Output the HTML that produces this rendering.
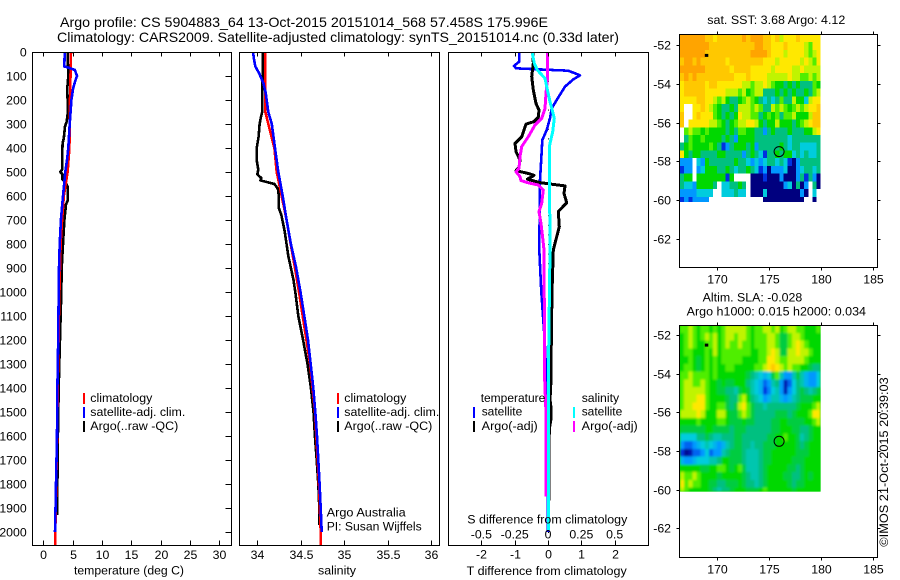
<!DOCTYPE html>
<html>
<head>
<meta charset="utf-8">
<title>Argo profile</title>
<style>
html,body{margin:0;padding:0;background:#fff;}
svg{display:block;}
text{font-family:"Liberation Sans",sans-serif;font-size:12.3px;fill:#000;}
.frame{fill:none;stroke:#000;stroke-width:1;shape-rendering:crispEdges;}
.title{font-size:14px;}
</style>
</head>
<body>
<svg id="chart" width="900" height="580" viewBox="0 0 900 580" xmlns="http://www.w3.org/2000/svg">
  <defs>
    <filter id="slaBlur" x="-5%" y="-5%" width="110%" height="110%"><feGaussianBlur stdDeviation="1"/></filter>
    <clipPath id="slaClip"><rect x="680" y="326" width="140.7" height="165.7"/></clipPath>
  </defs>
  <text class="title" x="60" y="27" textLength="488" lengthAdjust="spacingAndGlyphs">Argo profile: CS 5904883_64 13-Oct-2015 20151014_568 57.458S 175.996E</text>
  <text class="title" x="57" y="42" textLength="562" lengthAdjust="spacingAndGlyphs">Climatology: CARS2009. Satellite-adjusted climatology: synTS_20151014.nc (0.33d later)</text>

  <g id="marksTemp"></g>
  <g id="marksSal"></g>
  <g id="marksDiff"></g>
  <g id="mapSst"></g>
  <g clip-path="url(#slaClip)">
    <rect x="680" y="326" width="140.7" height="165.7" fill="#00d400"/>
    <g id="mapSla" filter="url(#slaBlur)"></g>
  </g>
  <g id="mapSlaMarks"></g>
  <g id="axes"></g>

  <rect class="frame" x="32.5" y="52.5" width="199" height="493"/>
  <rect class="frame" x="239.5" y="52.5" width="200" height="493"/>
  <rect class="frame" x="448.5" y="52.5" width="200" height="493"/>
  <rect class="frame" x="679.5" y="34.5" width="198" height="233"/>
  <rect class="frame" x="679.5" y="325.5" width="198" height="232"/>

  <text x="74" y="574.5" textLength="110" lengthAdjust="spacingAndGlyphs">temperature (deg C)</text>
  <text x="318" y="574.5" textLength="38" lengthAdjust="spacingAndGlyphs">salinity</text>
  <text x="466.7" y="575" textLength="160" lengthAdjust="spacingAndGlyphs">T difference from climatology</text>
  <text x="467.3" y="523.5" textLength="160" lengthAdjust="spacingAndGlyphs">S difference from climatology</text>

  <g>
    <rect x="83" y="393" width="2" height="11" fill="#ff0000"/>
    <rect x="83" y="407" width="2" height="11" fill="#0000ff"/>
    <rect x="83" y="421" width="2" height="11" fill="#000"/>
    <text x="90.3" y="402" textLength="62" lengthAdjust="spacingAndGlyphs">climatology</text>
    <text x="90.3" y="416" textLength="95" lengthAdjust="spacingAndGlyphs">satellite-adj. clim.</text>
    <text x="90.3" y="430" textLength="88" lengthAdjust="spacingAndGlyphs">Argo(..raw -QC)</text>
  </g>
  <g>
    <rect x="337" y="393" width="2" height="11" fill="#ff0000"/>
    <rect x="337" y="407" width="2" height="11" fill="#0000ff"/>
    <rect x="337" y="421" width="2" height="11" fill="#000"/>
    <text x="344.3" y="402" textLength="62" lengthAdjust="spacingAndGlyphs">climatology</text>
    <text x="344.3" y="416" textLength="95" lengthAdjust="spacingAndGlyphs">satellite-adj. clim.</text>
    <text x="344.3" y="430" textLength="88" lengthAdjust="spacingAndGlyphs">Argo(..raw -QC)</text>
    <text x="326.7" y="516.7" textLength="79" lengthAdjust="spacingAndGlyphs">Argo Australia</text>
    <text x="326.7" y="530.7" textLength="95" lengthAdjust="spacingAndGlyphs">PI: Susan Wijffels</text>
  </g>
  <g>
    <text x="480.7" y="402" textLength="64.6" lengthAdjust="spacingAndGlyphs">temperature</text>
    <rect x="473" y="407" width="2" height="11" fill="#0000ff"/>
    <rect x="473" y="421" width="2" height="11" fill="#000"/>
    <text x="481.7" y="415.7" textLength="40.6" lengthAdjust="spacingAndGlyphs">satellite</text>
    <text x="481.7" y="430" textLength="56" lengthAdjust="spacingAndGlyphs">Argo(-adj)</text>
    <text x="581.7" y="402" textLength="37.4" lengthAdjust="spacingAndGlyphs">salinity</text>
    <rect x="573" y="407" width="2" height="11" fill="#00ffff"/>
    <rect x="573" y="421" width="2" height="11" fill="#ff00ff"/>
    <text x="581.7" y="415.7" textLength="40.6" lengthAdjust="spacingAndGlyphs">satellite</text>
    <text x="581.7" y="430" textLength="56" lengthAdjust="spacingAndGlyphs">Argo(-adj)</text>
  </g>

  <text x="707.3" y="24" textLength="138" lengthAdjust="spacingAndGlyphs">sat. SST: 3.68 Argo: 4.12</text>
  <text x="702.7" y="301.3" textLength="99.6" lengthAdjust="spacingAndGlyphs">Altim. SLA: -0.028</text>
  <text x="686.7" y="315.7" textLength="179.3" lengthAdjust="spacingAndGlyphs">Argo h1000: 0.015 h2000: 0.034</text>
  <text transform="translate(888 546.7) rotate(-90)" x="0" y="0" textLength="169.4" lengthAdjust="spacingAndGlyphs">©IMOS 21-Oct-2015 20:39:03</text>
</svg>

<script>
/* ---- tick labels ---- */
const depthTicks = [0,100,200,300,400,500,600,700,800,900,1000,1100,1200,1300,1400,1500,1600,1700,1800,1900,2000];
const tempTicks = [0,5,10,15,20,25,30];
const salTicks = [34,34.5,35,35.5,36];
const diffTTicks = [-2,-1,0,1,2];
const diffSTicks = [-0.5,-0.25,0,0.25,0.5];
const lonTicks = [170,175,180,185];
const latTicks = [-52,-54,-56,-58,-60,-62];

/* ---- temperature panel ---- */
const climTempDepth = [0,200,400,500,600,700,800,900,1000,1200,1400,1600,1800,2000,2055];
const climTemp = [4.73,4.55,4.45,4.15,3.5,3.2,2.95,2.85,2.75,2.6,2.45,2.35,2.2,2.05,2.05];
const satTempDepth = [0,50,60,65,75,100,120,150,200,300,400,450,500,600,700,800,900,1000,1200,1400,1600,1800,1950,2000];
const satTemp = [3.65,3.6,3.55,4.27,5.4,5.75,5.46,5.1,4.8,4.5,4.27,4.04,3.76,3.36,3.0,2.8,2.68,2.62,2.55,2.4,2.34,2.17,2.05,2.0];
const argoTempDepth = [0,100,150,250,290,310,360,380,440,490,500,510,530,545,560,620,635,700,800,900,1000,1150,1300,1400,1600,1800,1930];
const argoTemp = [4.15,4.27,4.1,4.2,4.0,3.7,3.5,3.3,3.2,3.2,2.9,3.3,3.2,3.8,4.15,4.15,3.87,3.6,3.36,3.14,3.07,2.9,2.73,2.62,2.5,2.4,2.34];

/* ---- salinity panel ---- */
const climSalDepth = [0,100,200,250,300,400,500,600,700,800,900,1000,1100,1300,1500,1800,2000,2055];
const climSal = [34.095,34.095,34.096,34.096,34.13,34.2,34.226,34.284,34.34,34.387,34.437,34.483,34.525,34.61,34.667,34.713,34.732,34.732];
const satSalDepth = [0,30,60,90,130,170,250,300,400,500,600,700,800,900,1000,1100,1200,1300,1400,1500,1600,1700,1800,1900,2000];
const satSal = [33.954,33.965,33.98,34.027,34.073,34.1,34.13,34.17,34.207,34.245,34.295,34.34,34.39,34.45,34.5,34.544,34.586,34.617,34.647,34.67,34.69,34.705,34.72,34.732,34.744];
const argoSalDepth = [0,90,140,250,270,300,350,400,450,490,510,525,535,550,570,600,650,680,750,850,950,1000,1100,1200,1300,1400,1500,1600,1700,1800,1900,1970];
const argoSal = [34.069,34.069,34.06,34.06,34.046,34.03,34.02,33.996,33.996,34.015,34.003,34.05,34.04,34.2,34.24,34.25,34.25,34.28,34.32,34.36,34.42,34.44,34.475,34.53,34.58,34.62,34.65,34.665,34.686,34.705,34.716,34.716];

/* ---- difference panel ---- */
const satDiffTDepth = [5,40,58,68,72,78,97,114,144,200,235,276,325,367,464,533,825,1000,1200,1400,1700,2000];
const satDiffT = [-0.86,-0.86,-1.02,-0.96,-0.34,0.61,0.96,0.76,0.51,0.26,0.11,0.06,-0.04,-0.17,-0.21,-0.24,-0.26,-0.2,-0.1,-0.04,-0.02,0];
const argoDiffTDepth = [5,47,103,158,214,242,272,290,301,353,381,415,450,480,494,508,514,530,544,550,558,589,628,665,728,797,825,1000,1200,1367,1450,1480,1530,1570,1900,1930];
const argoDiffT = [-0.45,-0.44,-0.49,-0.44,-0.36,-0.27,-0.29,-0.42,-0.66,-0.79,-0.99,-0.96,-0.84,-0.87,-0.96,-0.54,-0.42,-0.62,-0.24,0.06,0.51,0.48,0.56,0.31,0.34,0.21,0.16,0.12,0.1,0.09,0.06,0.09,0.09,0.04,0.02,0.02];
const argoDiffSDepth = [5,117,172,235,276,304,353,394,436,485,499,519,536,544,554,575,630,665,714,797,825,1367,1506,1853];
const argoDiffS = [-0.005,-0.005,-0.015,-0.0225,-0.0475,-0.0975,-0.1475,-0.1975,-0.21,-0.2175,-0.24,-0.21,-0.2025,-0.155,-0.0725,-0.035,-0.0475,-0.0675,-0.0525,-0.035,-0.03,-0.025,-0.015,-0.015];
const satDiffSDepth = [5,47,75,110,144,207,276,332,394,825,1367,1992];
const satDiffS = [-0.1175,-0.1025,-0.08,-0.0225,-0.01,0.015,0.0475,0.035,0.01,0.015,0.0025,0.0025];

/* ---- map grids: colour level per cell, 0 = no data, 1 navy ... 11 orange ---- */
const sstRows = [
[11,11,11,11,11,11,10,10,9,10,10,10,10,10,10,11,10,11,11,11,10,10,9,10,8,9,9,9,10,9,9,9,9,9],
[11,11,11,11,11,11,11,10,10,10,10,10,10,10,10,10,10,10,11,11,10,10,9,9,9,10,9,9,9,9,8,7,9,9],
[11,11,11,11,11,11,10,10,10,10,10,10,10,10,10,10,10,11,11,11,11,10,9,9,9,8,9,9,9,9,8,7,8,9],
[10,11,11,10,11,10,10,10,10,10,10,9,10,10,10,10,10,10,10,10,9,9,9,8,9,9,9,9,9,8,9,8,7,9],
[11,11,11,11,11,11,10,10,10,10,10,10,9,10,10,10,10,9,9,9,9,9,8,9,9,9,9,8,8,9,8,8,8,8],
[10,11,10,11,10,10,10,10,10,10,10,10,10,9,9,9,10,9,9,9,9,8,8,8,8,8,9,8,8,7,7,8,7,8],
[9,10,10,10,10,10,9,10,10,9,9,9,9,9,9,8,8,7,8,8,9,8,7,6,6,5,6,5,6,5,5,5,7,6],
[9,10,10,10,10,10,9,9,9,9,9,8,8,8,7,8,6,7,8,8,5,5,5,6,5,6,5,6,5,5,6,5,7,8],
[9,9,9,9,10,10,9,9,8,7,8,6,5,5,6,7,8,7,6,5,4,5,4,5,7,5,5,8,6,6,4,8,9,9],
[9,0,0,9,9,10,9,8,7,6,5,5,6,5,8,8,8,7,8,7,5,5,8,7,8,7,6,7,8,7,8,9,9,10],
[10,0,0,9,10,9,9,9,7,6,5,6,5,6,9,8,8,7,7,5,6,7,6,7,5,7,7,8,6,6,6,8,10,10],
[10,0,9,9,9,9,9,8,8,7,6,5,6,7,8,8,9,9,8,6,5,6,6,8,6,6,6,5,6,7,8,9,10,10],
[0,7,8,7,7,6,7,6,6,6,6,5,6,5,7,7,6,6,5,5,3,5,6,5,5,5,6,5,5,5,6,6,8,9],
[0,5,7,6,6,7,6,6,6,6,5,6,5,3,6,6,6,6,5,5,5,5,5,5,5,5,4,5,5,5,5,5,5,5],
[5,6,7,6,6,6,6,7,6,5,2,3,5,6,6,6,5,6,3,5,5,5,5,5,6,5,4,5,5,4,4,4,4,5],
[9,6,5,6,6,5,5,5,5,6,6,5,5,5,5,3,5,6,5,4,2,5,5,6,5,6,6,4,5,4,5,4,4,5],
[3,3,3,0,4,3,6,5,5,5,5,5,5,6,5,5,4,3,4,3,4,5,5,4,5,4,2,1,3,5,5,5,5,5],
[2,3,3,0,3,4,6,6,6,5,5,6,5,4,5,5,6,5,4,2,3,1,3,3,3,4,1,1,3,4,5,5,4,5],
[5,6,6,0,6,6,6,6,6,6,6,2,6,0,0,0,0,1,1,1,2,1,1,1,3,1,1,1,3,5,2,5,3,1],
[5,4,4,3,6,6,6,6,5,0,4,4,5,5,6,5,0,1,1,1,1,1,1,1,1,3,4,1,5,1,3,0,5,1],
[3,3,3,3,4,4,4,4,0,0,4,4,4,5,4,4,0,1,1,1,4,1,1,1,1,1,1,1,1,3,1,0,4,0],
[2,3,2,3,3,3,3,0,0,0,0,0,0,0,0,0,0,0,0,0,1,1,1,1,1,1,1,1,1,1,0,0,1,0]
];
const slaRows = [
[7,7,8,7,6,7,7,6,7,6,7,8,8,8,8,8,7,6,7,7,8,8,7,8,6,7,8,8,7,7,6,6,6,7],
[6,7,8,7,6,7,8,7,8,6,7,8,8,7,8,8,7,6,7,7,7,8,8,7,5.5,5.5,7,8,8,7,6,6,6,6],
[6,7,8,7,6,6,7,7,8,6,7,8,7,7,8,7,7,6,7,7,7,8,8,7,5.5,5.5,7,8,9,8,7,6,6,6],
[6,7,7,6,6,6,7,6,8,6,7,7,7,7,7,7,7,6,6,7,7,8,9,8,5.5,5.5,8,8,9,8,8,7,6,6],
[6,6,7,6,5.5,6,7,6,7,6,7,7,7,7,7,6,6,6,6,7,7,9,9,8,7,7,8,8,8,8,7,6,6,6],
[6,7,7,6,5.5,6,7,6,7,6,6,7,7,6,6,6,6,6,7,7,8,9,10,9,8,7,8,7,7,6,6,5.5,5,5],
[7,7,8,7,7,7,7,6,7,6,6,6,6,6,6,6,5.5,5,4.5,4,3.5,4,5.5,7,4.5,3,3,4.5,5.5,4.5,3.5,3,3,4],
[7,8,8,7,7,8,7,6,6,5.5,6,5.5,5.5,6,6,6,5,4.5,4,3.5,2.5,3,4.5,5,3,1.5,2.5,4,5,4.5,3.5,3,3,4],
[7,8,8,8,8,8,7,6,6,5.5,5.5,5,5,4.5,5.5,6,5.5,4.5,4,3.5,2,2.8,4,4.5,3,1.5,3,4,5,5.5,5,4.5,5,5.5],
[7,8,8,8,9,9,7,6,6,6,6,5.5,5,5,7,8,6,5,4.5,4,3,3.5,4.5,4.5,3.5,3,3.5,4.5,5,5.5,5.5,5.5,6,6],
[7,8,8,9,9,9,7,6,6,7,7,5.5,5,5.5,8,9,7,5.5,5,5,4.5,5,5,5,5,5,5,5,5.5,6,6,6,7,8],
[8,8,8,8,9,8,6,6,6,8,8,6,5.5,5.5,7,8,7,5.5,5,5,5,5,5,5.5,5.5,5.5,5,5.5,6,6,6,7,9,9],
[6,6,6,6,7,6,6,6,6,7,7,6,5.5,5.5,5.5,6,5.5,5.5,5,5,5,5,5.5,5.5,6,6,5.5,5.5,5.5,5.5,6,6,7,8],
[5.5,5.5,5.5,5.5,5.5,5.5,6,6,5.5,5.5,5.5,5.5,5,5.5,5.5,5.5,5,5,5,5,5,5,5.5,5.5,6,6,6,5.5,5.5,5,5,5.5,6,6],
[4,4,4,4,5,5,5.5,5,4.5,4.5,5,5,5,5.5,5.5,5,5,5,5,5,5,5.5,5.5,6,6,7,6,6,5.5,4.5,5,5.5,6,6],
[3,2.5,2.5,3,3.5,4,4.5,4,3.5,3,3.5,4.5,5,5.5,5.5,5,5,4.5,5,5,5.5,5.5,5.5,6,6,6,6,6,5.5,5,5.5,6,6,6],
[2,1.2,1.5,2.5,2.5,3,4,2.5,3,3,4.5,5,5.5,5.5,5.5,5,4.5,4.5,4.5,5,5.5,5.5,6,6,6,6,6,6,5.5,5.5,5.5,6,6,6],
[3.5,3,3,3.5,4,4,4,4.5,4.5,5,6,6,5.5,5.5,5.5,5,4.5,4.5,4.5,5,5.5,5.5,6,6,6,6,6,5.5,5.5,5.5,6,6,6,6],
[6,6,6,6,6,5.5,5.5,6,6,7,7,6,5.5,6,7,5.5,4.5,4.5,4.5,5,5.5,6,6,6,6,6,5.5,5.5,5,5.5,6,6,6,6],
[8,7,7,8,7,6,6,6,6,5.5,6,6,6,6,6,5.5,5,4.5,4.5,5,5.5,6,6,6,6,5.5,5.5,5,5,5.5,6,5.5,6,6],
[9,7,8,7,7,6,6,5.5,5.5,5,5,5.5,5.5,5.5,6,5.5,5,5,4.5,5,5.5,6,6,6,6,6,5.5,5,5.5,5.5,6,6,6,6],
[8,7,6,6,6,6,6,5.5,5,4.5,5,5,5.5,6,6,6,5.5,5.5,5.5,6,7,6,6,6,6,6,6,5.5,6,6,6,6,6,6]
];
const profileLon = [176];
const profileLat = [-57.5];
const floatLon = [169.05];
const floatLat = [-52.55];

/* ---- axis functions ---- */
const SVGNS = 'http://www.w3.org/2000/svg';
function yDepth(d){ return 52 + d * 0.24; }
function xTemp(t){ return 43.3 + t * 5.86; }
function xSal(s){ return 257 + (s - 34) * 87; }
function xDiffT(t){ return 548 + t * 33.33; }
function xDiffS(s){ return 548 + s * 133.3; }
function xLon(l){ return 716.7 + (l - 170) * 10.4; }
function ySst(l){ return 45.3 + (-52 - l) * 19.33; }
function ySla(l){ return 335 + (-52 - l) * 19.33; }

const LON_START = 166.47, LON_STEP = 0.398;
const SST_TOP = -51.44, SLA_TOP = -51.49, LAT_STEP = 0.4, LAT_BOTTOM = -60.1;

const levelColors = [[0,0,127],[0,48,224],[0,152,255],[0,204,221],[0,192,128],[0,216,0],[80,238,0],[192,244,0],[255,232,0],[255,200,0],[255,164,0]];
function levelColor(v){
  const p = Math.max(0, Math.min(levelColors.length - 1, v - 1));
  const i = Math.floor(p);
  const j = Math.min(levelColors.length - 1, i + 1);
  const f = p - i;
  const c = levelColors[i].map(function(a, k){ return Math.round(a + (levelColors[j][k] - a) * f); });
  return 'rgb(' + c.join(',') + ')';
}

function el(tag, parent){
  const e = document.createElementNS(SVGNS, tag);
  parent.appendChild(e);
  return e;
}

function drawSeries(parent, name, depths, values, xf, color, width){
  const p = el('polyline', parent);
  
  
  p.setAttribute('points', depths.map(function(d, i){ return xf(values[i]).toFixed(1) + ',' + yDepth(d).toFixed(1); }).join(' '));
  p.setAttribute('fill', 'none');
  p.setAttribute('stroke', color);
  p.setAttribute('stroke-width', width);
  p.setAttribute('stroke-linejoin', 'round');
  p.setAttribute('shape-rendering', 'crispEdges');
}

function drawTick(parent, x1, y1, x2, y2){
  const t = el('line', parent);
  
  
  t.setAttribute('x1', x1);
  t.setAttribute('y1', y1);
  t.setAttribute('x2', x2);
  t.setAttribute('y2', y2);
  t.setAttribute('stroke', '#000');
  t.setAttribute('shape-rendering', 'crispEdges');
}

function drawLabel(parent, str, x, y, anchor){
  const t = el('text', parent);
  
  
  t.setAttribute('x', x);
  t.setAttribute('y', y);
  t.setAttribute('text-anchor', anchor);
  t.textContent = str;
}

function drawGrid(parent, rows, topLat, yf){
  rows.forEach(function(row, r){
    row.forEach(function(v, c){
      if (v <= 0) return;
      const latA = topLat - r * LAT_STEP;
      const latB = Math.max(LAT_BOTTOM, latA - LAT_STEP);
      const x0 = Math.max(680, xLon(LON_START + c * LON_STEP));
      const x1 = xLon(LON_START + (c + 1) * LON_STEP);
      const cell = el('rect', parent);
      
      
      cell.setAttribute('x', x0.toFixed(2));
      cell.setAttribute('y', yf(latA).toFixed(2));
      cell.setAttribute('width', (x1 - x0).toFixed(2));
      cell.setAttribute('height', (yf(latB) - yf(latA)).toFixed(2));
      cell.setAttribute('fill', levelColor(v));
      cell.setAttribute('shape-rendering', 'crispEdges');
    });
  });
}

function drawMarkers(parent, yf){
  const dot = el('rect', parent);
  
  
  dot.setAttribute('x', (xLon(floatLon[0]) - 2).toFixed(1));
  dot.setAttribute('y', (yf(floatLat[0]) - 2).toFixed(1));
  dot.setAttribute('width', '3.5');
  dot.setAttribute('height', '3');
  dot.setAttribute('fill', '#000');
  const ring = el('circle', parent);
  
  
  ring.setAttribute('cx', xLon(profileLon[0]).toFixed(1));
  ring.setAttribute('cy', yf(profileLat[0]).toFixed(1));
  ring.setAttribute('r', '5');
  ring.setAttribute('fill', 'none');
  ring.setAttribute('stroke', '#000');
  ring.setAttribute('stroke-width', '1');
}

/* ---- marks ---- */
const gTemp = document.getElementById('marksTemp');
drawSeries(gTemp, 'temperature-argo-line', argoTempDepth, argoTemp, xTemp, '#000000', 2.6);
drawSeries(gTemp, 'temperature-climatology-line', climTempDepth, climTemp, xTemp, '#ff0000', 2.6);
drawSeries(gTemp, 'temperature-satellite-line', satTempDepth, satTemp, xTemp, '#0000ff', 2.6);

const gSal = document.getElementById('marksSal');
drawSeries(gSal, 'salinity-argo-line', argoSalDepth, argoSal, xSal, '#000000', 2.6);
drawSeries(gSal, 'salinity-climatology-line', climSalDepth, climSal, xSal, '#ff0000', 2.6);
drawSeries(gSal, 'salinity-satellite-line', satSalDepth, satSal, xSal, '#0000ff', 2.6);

const gDiff = document.getElementById('marksDiff');
for (let d = 0; d < 2050; d += 40) {
  const zeroDot = el('rect', gDiff);
  
  
  zeroDot.setAttribute('x', xDiffT(0).toFixed(1));
  zeroDot.setAttribute('y', yDepth(d).toFixed(1));
  zeroDot.setAttribute('width', '1');
  zeroDot.setAttribute('height', '1');
  zeroDot.setAttribute('fill', '#000');
}
drawSeries(gDiff, 'difference-t-satellite-line', satDiffTDepth, satDiffT, xDiffT, '#0000ff', 2.6);
drawSeries(gDiff, 'difference-t-argo-line', argoDiffTDepth, argoDiffT, xDiffT, '#000000', 3);
drawSeries(gDiff, 'difference-s-argo-line', argoDiffSDepth, argoDiffS, xDiffS, '#ff00ff', 3);
drawSeries(gDiff, 'difference-s-satellite-line', satDiffSDepth, satDiffS, xDiffS, '#00ffff', 3);

const gSst = document.getElementById('mapSst');
drawGrid(gSst, sstRows, SST_TOP, ySst);
drawMarkers(gSst, ySst);

const gSla = document.getElementById('mapSla');
drawGrid(gSla, slaRows, SLA_TOP, ySla);
drawMarkers(document.getElementById('mapSlaMarks'), ySla);

/* ---- axes ---- */
const gAxes = document.getElementById('axes');
depthTicks.forEach(function(d){
  const y = Math.round(yDepth(d)) + 0.5;
  drawTick(gAxes, 225.5, y, 231.5, y);
  drawLabel(gAxes, String(d), 26.7, y + 4, 'end');
});
tempTicks.forEach(function(t){
  const x = Math.round(xTemp(t)) + 0.5;
  drawTick(gAxes, x, 52.5, x, 56.5);
  drawTick(gAxes, x, 545.5, x, 540.5);
  drawLabel(gAxes, String(t), x, 559, 'middle');
});
salTicks.forEach(function(s){
  const x = Math.round(xSal(s)) + 0.5;
  drawTick(gAxes, x, 52.5, x, 56.5);
  drawTick(gAxes, x, 545.5, x, 540.5);
  drawLabel(gAxes, String(s), x, 559, 'middle');
});
diffTTicks.forEach(function(t){
  const x = Math.round(xDiffT(t)) + 0.5;
  drawTick(gAxes, x, 52.5, x, 56.5);
  drawTick(gAxes, x, 545.5, x, 540.5);
  drawLabel(gAxes, String(t), x, 558.7, 'middle');
});
diffSTicks.forEach(function(s){
  drawLabel(gAxes, String(s), xDiffS(s), 538.3, 'middle');
});
lonTicks.forEach(function(l){
  const x = Math.round(xLon(l)) + 0.5;
  drawTick(gAxes, x, 34.5, x, 31.5);
  drawTick(gAxes, x, 267.5, x, 270.5);
  drawTick(gAxes, x, 325.5, x, 322.5);
  drawTick(gAxes, x, 557.5, x, 560.5);
  drawLabel(gAxes, String(l), x, 283.3, 'middle');
  drawLabel(gAxes, String(l), x, 573.3, 'middle');
});
latTicks.forEach(function(l){
  const y1 = Math.round(ySst(l)) + 0.5;
  const y2 = Math.round(ySla(l)) + 0.5;
  drawTick(gAxes, 679.5, y1, 676.5, y1);
  drawTick(gAxes, 877.5, y1, 880.5, y1);
  drawTick(gAxes, 679.5, y2, 676.5, y2);
  drawTick(gAxes, 877.5, y2, 880.5, y2);
  drawLabel(gAxes, String(l), 671, y1 + 4, 'end');
  drawLabel(gAxes, String(l), 671, y2 + 4, 'end');
});
</script>
</body>
</html>
